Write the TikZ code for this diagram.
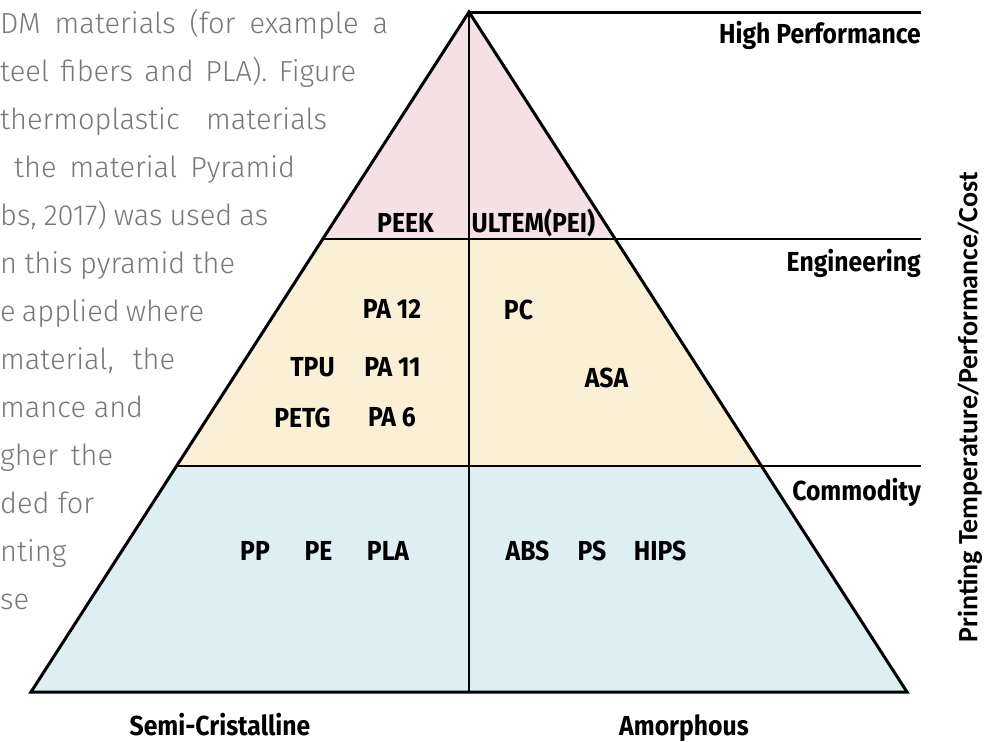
\documentclass[tikz,border=0pt]{standalone}
\usepackage{fontspec}
\setmainfont{Fira Sans}
\newfontfamily\labelfont{Fira Sans}[FakeStretch=0.9]
\newfontfamily\bodyfont{Fira Sans Light}
\newfontfamily\axisfont{Carlito}
\definecolor{hpfill}{RGB}{245,225,229}
\definecolor{engfill}{RGB}{251,239,214}
\definecolor{comfill}{RGB}{221,239,242}
\definecolor{bodygray}{RGB}{120,120,120}
\tikzset{
  mat/.style={inner sep=0pt, anchor=base, font=\labelfont\bfseries\fontsize{27.5}{31}\selectfont},
  tier/.style={mat, anchor=base east},
  bodyline/.style={anchor=base west, inner sep=0pt, text=bodygray,
    font=\bodyfont\fontsize{29}{34}\selectfont},
  outline/.style={line width=3pt, line join=miter},
  divider/.style={line width=2pt},
}
\begin{document}
\begin{tikzpicture}[x=1pt,y=-1pt]
\useasboundingbox (0,0) rectangle (994,742);
\fill[white] (0,0) rectangle (994,742);

% running text beside the pyramid
\node[bodyline] (t1)  at (0,33)  {\makebox[388pt][s]{DM materials (for example a}};
\node[bodyline] (t2)  at (0,81)  {\makebox[356pt][s]{teel fibers and PLA). Figure}};
\node[bodyline] (t3)  at (0,129) {\makebox[327pt][s]{thermoplastic materials}};
\node[bodyline] (t4)  at (14,177) {\makebox[281pt][s]{the material Pyramid}};
\node[bodyline] (t5)  at (0,225) {\makebox[268pt][s]{bs, 2017) was used as}};
\node[bodyline] (t6)  at (0,273) {\makebox[235pt][s]{n this pyramid the}};
\node[bodyline] (t7)  at (0,321) {\makebox[204pt][s]{e applied where}};
\node[bodyline] (t8)  at (0,369) {\makebox[175pt][s]{material, the}};
\node[bodyline] (t9)  at (0,417) {\makebox[143pt][s]{mance and}};
\node[bodyline] (t10) at (0,465) {\makebox[113pt][s]{gher the}};
\node[bodyline] (t11) at (0,513) {ded for};
\node[bodyline] (t12) at (0,561) {nting};
\node[bodyline] (t13) at (0,609) {se};

% pyramid corner points
\coordinate (apex) at (469,12);
\coordinate (bl) at (31,692);
\coordinate (br) at (907,692);
\coordinate (bm) at (469,692);
\coordinate (el) at (322.8,239);
\coordinate (er) at (615.2,239);
\coordinate (cl) at (176.6,466);
\coordinate (cr) at (761.4,466);
\coordinate (top end) at (921,12);
\coordinate (eng end) at (921,239);
\coordinate (com end) at (921,466);

% tier fills
\fill[hpfill] (apex) -- (er) -- (el) -- cycle;
\fill[engfill] (el) -- (er) -- (cr) -- (cl) -- cycle;
\fill[comfill] (cl) -- (cr) -- (br) -- (bl) -- cycle;

% tier boundaries and centre split
\draw[divider] (el) -- (eng end);
\draw[divider] (cl) -- (com end);
\draw[divider] (apex) -- (bm);
\draw[outline] (apex) -- (top end);
\draw[outline] (bl) -- (apex) -- (br) -- cycle;

% tier names
\node[tier] (hp)  at (921,43) {High Performance};
\node[tier] (eng) at (921,271) {Engineering};
\node[tier] (com) at (921,500) {Commodity};

% materials
\node[mat] (peek)  at (405.5,232) {PEEK};
\node[mat] (ultem) at (533.5,232) {ULTEM(PEI)};
\node[mat] (pa12)  at (392,318) {PA 12};
\node[mat] (pc)    at (518.5,319) {PC};
\node[mat] (tpu)   at (312.5,376) {TPU};
\node[mat] (pa11)  at (392.5,376) {PA 11};
\node[mat] (asa)   at (606.5,387) {ASA};
\node[mat] (petg)  at (302.5,427) {PETG};
\node[mat] (pa6)   at (392,426) {PA 6};
\node[mat] (pp)    at (255,560) {PP};
\node[mat] (pe)    at (318.5,560) {PE};
\node[mat] (pla)   at (388,560) {PLA};
\node[mat] (abs)   at (527.5,560) {ABS};
\node[mat] (ps)    at (592,560) {PS};
\node[mat] (hips)  at (660,560) {HIPS};

% structure classes under the base
\node[mat] (semi) at (220,735) {Semi-Cristalline};
\node[mat] (amor) at (684,735) {Amorphous};

% vertical axis caption
\node[inner sep=0pt, rotate=90, font=\axisfont\bfseries\fontsize{28}{31}\selectfont]
  (axis) at (970,407) {Printing Temperature/Performance/Cost};
\end{tikzpicture}
\end{document}
